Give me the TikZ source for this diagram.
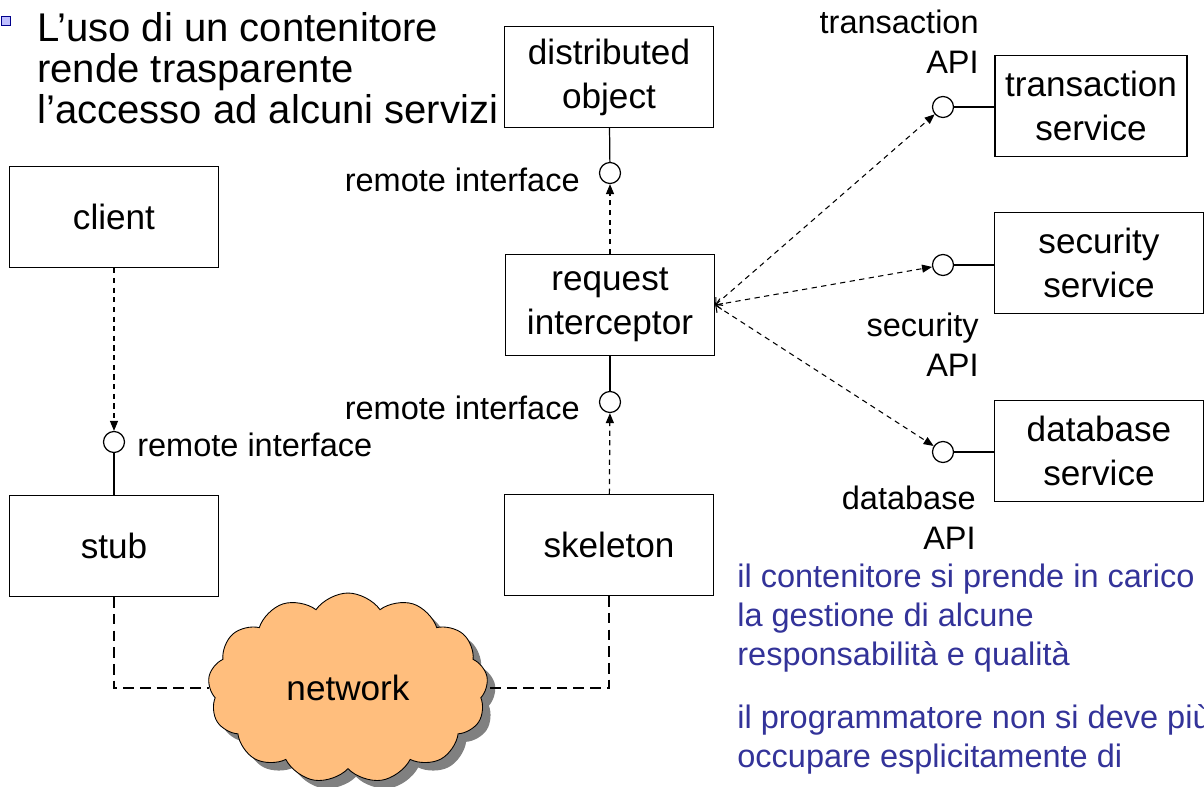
\documentclass[tikz,border=0pt]{standalone}
\usepackage{fontspec}
\setmainfont{Liberation Sans}
\usetikzlibrary{shapes,shapes.symbols,arrows.meta,positioning,shadows}

\definecolor{cloudfill}{RGB}{255,190,125}
\definecolor{noteblue}{RGB}{51,51,153}

\begin{document}
\begin{tikzpicture}[x=0.02cm, y=-0.02cm,
        box/.style={rectangle, draw, line width=0.8pt, minimum width=4.18cm, minimum height=2.02cm, align=center, font=\fontsize{20}{25}\selectfont},
        iface/.style={circle, draw, line width=0.7pt, fill=white, minimum size=0.42cm, inner sep=0pt},
        lbl/.style={inner sep=0pt, align=right, font=\fontsize{18.5}{22.8}\selectfont},
        dep/.style={line width=0.7pt, dash pattern=on 3pt off 2.5pt, -{Triangle[length=2mm,width=1.6mm]}},
        calls/.style={line width=0.6pt, dash pattern=on 3pt off 2.5pt, {Straight Barb[length=1mm,width=2.2mm]}-{Triangle[length=2mm,width=1.6mm]}},
        plug/.style={line width=0.7pt},
        netline/.style={line width=0.7pt, dash pattern=on 6pt off 3.5pt},
        note/.style={inner sep=0pt, align=left, text=noteblue, font=\fontsize{18.5}{22.2}\selectfont}]
        \useasboundingbox (0,0) rectangle (1204,787);

        % Bullet text
        \node[rectangle, draw=blue!55!black, fill=blue!25, line width=0.4pt, minimum size=0.17cm, inner sep=0pt] (bullet) at (6,21) {};
        \node[inner sep=0pt, anchor=west, align=left, font=\fontsize{22.8}{23.5}\selectfont] (intro) at (37,68) {L'uso di un contenitore\\rende trasparente\\l'accesso ad alcuni servizi};

        % Boxes
        \node[box] (client) at (114,217) {client};
        \node[box] (stub) at (114,546) {stub};
        \node[box] (dobj) at (609,77) {distributed\\object};
        \node[box] (intc) at (610,305) {request\\interceptor};
        \node[box] (skel) at (609,545) {skeleton};
        \node[box, minimum width=3.84cm] (txsrv) at (1091,106) {transaction\\service};
        \node[box] (secsrv) at (1099,263) {security\\service};
        \node[box] (dbsrv) at (1099,451) {database\\service};

        % Interfaces
        \node[iface] (ifDobj) at (610,173) {};
        \node[iface] (ifIntc) at (610,402) {};
        \node[iface] (ifStub) at (114,442) {};
        \node[iface] (ifTx) at (943,107) {};
        \node[iface] (ifSec) at (943,265) {};
        \node[iface] (ifDb) at (943,452) {};

        % Interface labels
        \node[lbl, anchor=east] (lblDobj) at (580,180) {remote interface};
        \node[lbl, anchor=east] (lblIntc) at (580,408) {remote interface};
        \node[lbl, anchor=west] (lblStub) at (137,445) {remote interface};
        \node[lbl, anchor=east] (lblTx) at (979,42) {transaction\\API};
        \node[lbl, anchor=east] (lblSec) at (979,345) {security\\API};
        \node[lbl, anchor=east] (lblDb) at (976,518) {database\\API};

        % Network
        \node[cloud, cloud puffs=13, cloud puff arc=110, aspect=1.45, draw, line width=0.5pt, fill=cloudfill, minimum width=5.6cm, minimum height=3.8cm, drop shadow={shadow xshift=0.16cm, shadow yshift=-0.16cm, fill=black!50, opacity=1}, font=\fontsize{20}{24}\selectfont] (net) at (348,688) {network};

        % Plugs
        \draw[plug] (ifDobj) -- (dobj);
        \draw[plug] (ifIntc) -- (intc);
        \draw[plug] (ifStub) -- (stub);
        \draw[plug] (ifTx.east) -- (ifTx.east -| txsrv.west);
        \draw[plug] (ifSec.east) -- (ifSec.east -| secsrv.west);
        \draw[plug] (ifDb.east) -- (ifDb.east -| dbsrv.west);

        % Dependencies
        \draw[dep] (client) -- (ifStub);
        \draw[dep] (intc) -- (ifDobj);
        \draw[dep] (skel) -- (ifIntc);
        \draw[calls] (intc.east) -- (ifTx);
        \draw[calls] (intc.east) -- (ifSec);
        \draw[calls] (intc.east) -- (ifDb);

        % Network links
        \draw[netline] (stub.south) |- (net.west);
        \draw[netline] (skel.south) |- (net.east);

        % Notes
        \node[note, anchor=west] (note1) at (737,618) {il contenitore si prende in carico\\la gestione di alcune\\responsabilità e qualità};
        \node[note, anchor=west] (note2) at (737,739) {il programmatore non si deve più\\occupare esplicitamente di};
\end{tikzpicture}
\end{document}
